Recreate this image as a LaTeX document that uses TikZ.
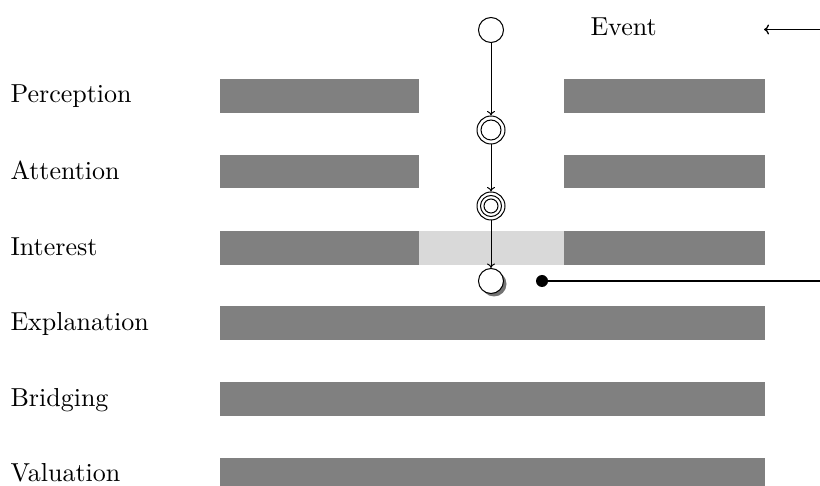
\documentclass[tikz,border=0pt]{standalone}
\usepackage{fontspec}
\usetikzlibrary{arrows.meta}
\begin{document}
\begin{tikzpicture}[x=1pt,y=-1pt,
  bar/.style={fill=black!50},
  lightbar/.style={fill=black!15},
  lbl/.style={anchor=base west, inner sep=0, scale=2.6},
  st/.style={circle, draw, line width=1pt, minimum size=25pt, inner sep=0, fill=white},
  stb/.style={circle, draw, line width=1pt, minimum size=28pt, inner sep=0, fill=white},
  ring/.style={line width=1pt},
  flow/.style={line width=1pt, -{To[length=4.5pt,width=8pt]}},
  evarrow/.style={line width=1.3pt, -{To[length=5pt,width=10pt]}},
  dot/.style={circle, fill=black, minimum size=12pt, inner sep=0}]
\useasboundingbox (0,0) rectangle (820,486);

% bars
\fill[bar] (220,79) rectangle (419,113);
\fill[bar] (564,79) rectangle (765,113);
\fill[bar] (220,155) rectangle (419,188);
\fill[bar] (564,155) rectangle (765,188);
\fill[bar] (220,231) rectangle (419,265);
\fill[lightbar] (419,231) rectangle (564,265);
\fill[bar] (564,231) rectangle (765,265);
\fill[bar] (220,306) rectangle (765,340);
\fill[bar] (220,382) rectangle (765,416);
\fill[bar] (220,458) rectangle (765,486);

% labels
\node[lbl] (perc) at (10,103) {Perception};
\node[lbl] (att) at (10,180) {Attention};
\node[lbl] (int) at (10,256) {Interest};
\node[lbl] (expl) at (10,331) {Explanation};
\node[lbl] (brid) at (10,407) {Bridging};
\node[lbl] (val) at (10,482) {Valuation};
\node[lbl] (event) at (590,36) {Event};

% states
\node[st] (c1) at (491,30) {};
\node[stb] (c2) at (491,130) {};
\draw[ring] (c2.center) circle (10);
\node[stb] (c3) at (491,206) {};
\draw[ring] (c3.center) circle (10.5);
\draw[ring] (c3.center) circle (7);
\fill[black!55] (494,284) circle (12.5);
\node[st] (c4) at (491,281) {};

\draw[flow] (c1) -- (c2);
\draw[flow] (c2) -- (c3);
\draw[flow] (c3) -- (c4);

% event arrow
\coordinate (er) at (820,29.5);
\coordinate (el) at (764,29.5);
\draw[evarrow] (er) -- (el);

% dot line
\node[dot] (d) at (542,281) {};
\coordinate (dr) at (820,281);
\draw[line width=2pt] (d.center) -- (dr);
\end{tikzpicture}
\end{document}
